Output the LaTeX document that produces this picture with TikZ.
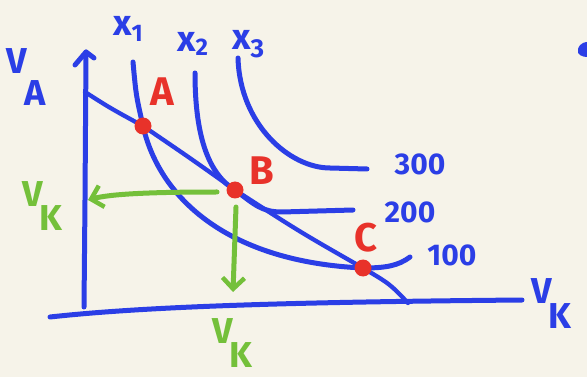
\documentclass[tikz,border=0pt]{standalone}
\usepackage{fontspec}
\setmainfont{Fira Sans}
\usetikzlibrary{arrows.meta}
\definecolor{bg}{HTML}{F6F3E9}
\definecolor{pen}{HTML}{2B3EE6}
\definecolor{dotred}{HTML}{E8322A}
\definecolor{pgreen}{HTML}{74C03A}
\tikzset{
  stroke/.style={draw=pen, line width=5pt, line cap=round, line join=round},
  thin stroke/.style={draw=pen, line width=4.3pt, line cap=round, line join=round},
  garrow/.style={draw=pgreen, line width=5pt, line cap=round, -{Straight Barb[length=11pt,width=22pt,line width=4.5pt]}},
  pt/.style={circle, fill=dotred, inner sep=0pt, minimum size=17pt},
  bluelbl/.style={text=pen, font=\fontsize{36}{36}\selectfont\bfseries, inner sep=0pt},
  numlbl/.style={text=pen, font=\fontsize{30}{30}\selectfont\bfseries, inner sep=0pt},
  redlbl/.style={text=dotred, font=\fontsize{40}{40}\selectfont\bfseries, inner sep=0pt},
  greenlbl/.style={text=pgreen, font=\fontsize{36}{36}\selectfont\bfseries, inner sep=0pt}
}
\begin{document}
\begin{tikzpicture}[x=1pt,y=-1pt]
\fill[bg] (0,0) rectangle (587,377);
\useasboundingbox (0,0) rectangle (587,377);
% axes
\coordinate (yb) at (84,307);
\coordinate (yt) at (86,52);
\coordinate (xl) at (50,317);
\coordinate (xr) at (522,300);
\draw[stroke] (yb) -- (85,200) -- (yt);
\draw[stroke] (75,65) -- (yt) -- (94,58);
\draw[stroke] (xl) .. controls (150,306) and (300,302) .. (xr);
% budget line
\coordinate (bl) at (85,92);
\coordinate (br) at (408,303);
% points
\coordinate (A) at (143,126);
\coordinate (B) at (235,190);
\coordinate (C) at (363,268);
\draw[thin stroke] (bl) .. controls (110,108) .. (A) .. controls (190,158) .. (B) .. controls (300,232) .. (C) .. controls (390,284) .. (br);
% x1 curve (100)
\draw[stroke] (133,62) .. controls (136,95) .. (A) .. controls (160,200) and (230,262) .. (C) .. controls (385,268) and (398,266) .. (410,257);
% x2 curve (200)
\draw[stroke] (195,73) .. controls (195,140) and (210,175) .. (B) .. controls (255,205) and (262,212) .. (282,212) -- (353,210);
% x3 curve (300)
\draw[stroke] (238,58) .. controls (240,125) and (290,168) .. (330,168) -- (367,169);
% dots
\node[pt] (pA) at (A) {};
\node[pt] (pB) at (B) {};
\node[pt] (pC) at (C) {};
% green arrows
\coordinate (gl) at (88,200);
\coordinate (gd) at (233,292);
\draw[garrow] (217,192) .. controls (150,192) and (110,194) .. (gl);
\draw[garrow] (236,207) -- (gd);
% labels
\node[bluelbl, anchor=north west] (lVA) at (6,48) {V\hspace{-2pt}\raisebox{-32pt}{A}};
\node[bluelbl, anchor=north west] (lx1) at (113,16) {x\raisebox{-6pt}{\fontsize{24}{24}\selectfont 1}};
\node[bluelbl, anchor=north west] (lx2) at (177,32) {x\raisebox{-4pt}{\fontsize{24}{24}\selectfont 2}};
\node[bluelbl, anchor=north west] (lx3) at (232,30) {x\raisebox{-8pt}{\fontsize{26}{26}\selectfont 3}};
\node[numlbl] (l300) at (420,164) {300};
\node[numlbl] (l200) at (410,212) {200};
\node[numlbl] (l100) at (452,255) {100};
\node[bluelbl, anchor=north west] (lVK) at (531,278) {V\hspace{-3pt}\raisebox{-25pt}{K}};
\node[redlbl] (lA) at (162,92) {A};
\node[redlbl] (lB) at (262,171) {B};
\node[redlbl] (lC) at (366,238) {C};
\node[greenlbl, anchor=north west] (gVK1) at (22,181) {V\hspace{-3pt}\raisebox{-24pt}{K}};
\node[greenlbl, anchor=north west] (gVK2) at (212,318) {V\hspace{-3pt}\raisebox{-24pt}{K}};
% blob at right edge
\fill[pen] (578,49) .. controls (580,42) and (587,42) .. (587,42) -- (587,57) .. controls (583,57) and (576,55) .. (578,49);
\end{tikzpicture}
\end{document}
